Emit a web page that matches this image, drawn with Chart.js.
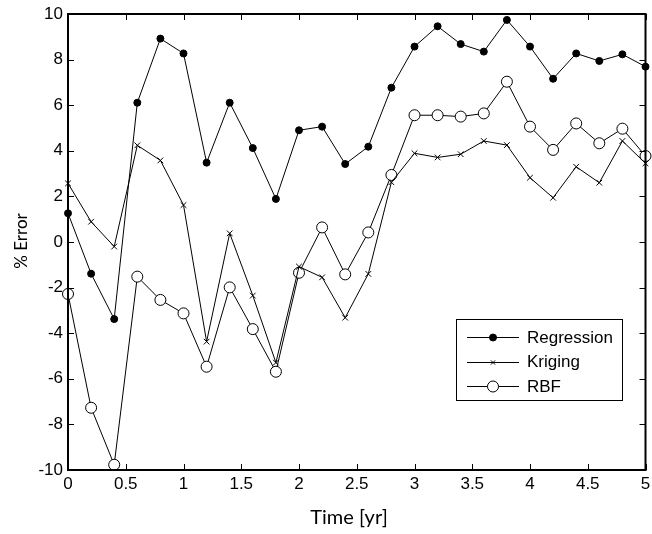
<!DOCTYPE html>
<html><head><meta charset="utf-8">
<script src="https://cdn.jsdelivr.net/npm/chart.js@4.4.0/dist/chart.umd.min.js"></script>
<style>html,body{margin:0;padding:0;background:#fff}#wrap{width:652px;height:534px}</style>
</head><body><div id="wrap"><canvas id="c" width="652" height="534"></canvas></div>
<script>
const timeYr = [0,0.2,0.4,0.6,0.8,1.0,1.2,1.4,1.6,1.8,2.0,2.2,2.4,2.6,2.8,3.0,3.2,3.4,3.6,3.8,4.0,4.2,4.4,4.6,4.8,5.0];
const regression = [1.26,-1.39,-3.38,6.11,8.92,8.27,3.48,6.11,4.12,1.89,4.90,5.06,3.42,4.18,6.77,8.57,9.46,8.68,8.35,9.74,8.57,7.16,8.27,7.94,8.23,7.69];
const kriging = [2.57,0.89,-0.20,4.24,3.58,1.62,-4.37,0.38,-2.35,-5.29,-1.08,-1.55,-3.32,-1.40,2.62,3.89,3.71,3.85,4.43,4.25,2.82,1.94,3.30,2.60,4.43,3.45];
const rbf = [-2.28,-7.27,-9.77,-1.52,-2.54,-3.13,-5.47,-1.99,-3.82,-5.69,-1.35,0.64,-1.42,0.42,2.94,5.56,5.56,5.50,5.64,7.03,5.06,4.04,5.20,4.33,4.97,3.77];
const seriesNames = ['Regression','Kriging','RBF'];
const xTickValues = [0,0.5,1,1.5,2,2.5,3,3.5,4,4.5,5];
const yTickValues = [-10,-8,-6,-4,-2,0,2,4,6,8,10];
const xTitle = 'Time [yr]';
const yTitle = '% Error';

const toXY = arr => arr.map((v,i)=>({x: timeYr[i], y: v}));
const tickFont = {family: 'Liberation Sans, Arial, sans-serif', size: 17};

const boxPlugin = {
  id: 'matlabBox',
  afterDatasetsDraw(chart) {
    const {ctx, chartArea: a, scales: {x, y}} = chart;
    ctx.save();
    ctx.strokeStyle = '#000';
    ctx.lineWidth = 1;
    const tl = 6;
    ctx.beginPath();
    xTickValues.forEach(v => {
      const px = Math.round(x.getPixelForValue(v)) + 0.5;
      ctx.moveTo(px, a.bottom); ctx.lineTo(px, a.bottom - tl);
      ctx.moveTo(px, a.top); ctx.lineTo(px, a.top + tl);
    });
    yTickValues.forEach(v => {
      const py = Math.round(y.getPixelForValue(v)) + 0.5;
      ctx.moveTo(a.left, py); ctx.lineTo(a.left + tl, py);
      ctx.moveTo(a.right, py); ctx.lineTo(a.right - tl, py);
    });
    ctx.stroke();
    ctx.lineWidth = 2;
    ctx.strokeRect(a.left, a.top, a.right - a.left, a.bottom - a.top);

    // legend
    const lg = {x0: 456, y0: 319, x1: 622, y1: 400};
    ctx.fillStyle = '#fff';
    ctx.fillRect(lg.x0, lg.y0, lg.x1 - lg.x0, lg.y1 - lg.y0);
    ctx.lineWidth = 1;
    ctx.strokeStyle = '#000';
    ctx.strokeRect(lg.x0 + 0.5, lg.y0 + 0.5, lg.x1 - lg.x0, lg.y1 - lg.y0);
    const rows = [337, 361.5, 386];
    ctx.font = '17px "Liberation Sans", Arial, sans-serif';
    ctx.textBaseline = 'middle';
    ctx.textAlign = 'left';
    chart.data.datasets.forEach((ds, i) => {
      const ry = Math.round(rows[i]) + 0.5;
      ctx.strokeStyle = '#000';
      ctx.lineWidth = 1;
      ctx.beginPath(); ctx.moveTo(467, ry); ctx.lineTo(519, ry); ctx.stroke();
      ctx.fillStyle = ds.pointBackgroundColor;
      ctx.strokeStyle = ds.pointBorderColor;
      Chart.helpers.drawPoint(ctx, {pointStyle: ds.pointStyle, radius: ds.pointStyle === 'crossRot' ? 3 : ds.pointRadius, rotation: 0, borderWidth: 1}, 493, ry);
      ctx.fillStyle = '#000';
      ctx.fillText(ds.label, 527, rows[i] + 1);
    });

    // axis titles
    ctx.fillStyle = '#000';
    ctx.textAlign = 'center';
    ctx.textBaseline = 'middle';
    ctx.font = '20px Lato, "Open Sans", sans-serif';
    ctx.fillText(xTitle, 349, 518);
    ctx.save();
    ctx.translate(22, 241);
    ctx.rotate(-Math.PI / 2);
    ctx.font = '17px Lato, "Open Sans", sans-serif';
    ctx.fillText(yTitle, 0, 0);
    ctx.restore();
    ctx.restore();
  }
};

new Chart(document.getElementById('c'), {
  type: 'line',
  data: {
    datasets: [
      {label: seriesNames[0], data: toXY(regression), borderColor: '#000', borderWidth: 1,
       pointStyle: 'circle', pointRadius: 3.5, pointBackgroundColor: '#000', pointBorderColor: '#000', pointBorderWidth: 1, clip: false},
      {label: seriesNames[1], data: toXY(kriging), borderColor: '#000', borderWidth: 1,
       pointStyle: 'crossRot', pointRadius: 4, pointBackgroundColor: '#000', pointBorderColor: '#000', pointBorderWidth: 1, clip: false},
      {label: seriesNames[2], data: toXY(rbf), borderColor: '#000', borderWidth: 1,
       pointStyle: 'circle', pointRadius: 5.5, pointBackgroundColor: '#fff', pointBorderColor: '#000', pointBorderWidth: 1, clip: false}
    ]
  },
  options: {
    responsive: false,
    animation: false,
    devicePixelRatio: 1,
    layout: {padding: {top: 14, right: 4, bottom: 0, left: 0}},
    elements: {line: {tension: 0}},
    plugins: {legend: {display: false}, tooltip: {enabled: false}},
    scales: {
      x: {
        type: 'linear', min: 0, max: 5,
        afterBuildTicks(s) { s.ticks = xTickValues.map(v => ({value: v})); },
        afterFit(s) { s.height = 64; s.paddingLeft = 0; s.paddingRight = 0; },
        ticks: {font: tickFont, color: '#000', padding: 4, maxRotation: 0, autoSkip: false,
                callback: v => String(v)},
        grid: {display: false, drawTicks: false},
        border: {display: false}
      },
      y: {
        type: 'linear', min: -10, max: 10,
        afterBuildTicks(s) { s.ticks = yTickValues.map(v => ({value: v})); },
        afterFit(s) { s.width = 68; s.paddingTop = 0; s.paddingBottom = 0; },
        ticks: {font: tickFont, color: '#000', padding: 5, autoSkip: false,
                callback: v => String(v)},
        grid: {display: false, drawTicks: false},
        border: {display: false}
      }
    }
  },
  plugins: [boxPlugin]
});
</script>
</body></html>
